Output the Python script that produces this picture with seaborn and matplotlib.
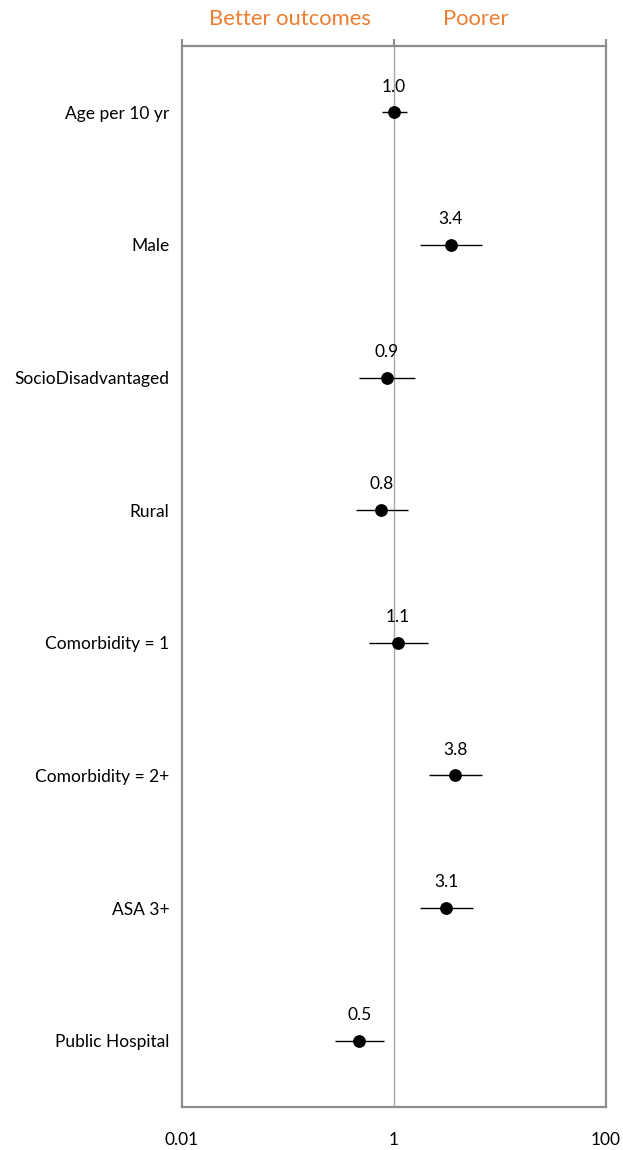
import numpy as np
import pandas as pd
import matplotlib
matplotlib.use("Agg")
import matplotlib.pyplot as plt
import matplotlib.ticker as mticker
import seaborn as sns

# odds ratios and 95% CI
factors = ["Age per 10 yr", "Male", "SocioDisadvantaged", "Rural",
           "Comorbidity = 1", "Comorbidity = 2+", "ASA 3+", "Public Hospital"]
odds_ratio = [1.0, 3.42, 0.86, 0.76, 1.09, 3.77, 3.1, 0.47]
ci_low = [0.77, 1.76, 0.47, 0.44, 0.58, 2.14, 1.76, 0.28]
ci_high = [1.33, 6.76, 1.58, 1.36, 2.09, 6.76, 5.56, 0.80]
x_ticks = [0.01, 1, 100]
x_tick_labels = ["0.01", "1", "100"]

GRAY = "#8c8c8c"
ORANGE = "#ed7d31"

sns.set_style("white")
plt.rcParams["font.family"] = ["Lato", "DejaVu Sans"]
plt.rcParams["text.color"] = "black"
plt.rcParams["xtick.color"] = "black"
plt.rcParams["ytick.color"] = "black"

df = pd.DataFrame({"factor": factors, "or": odds_ratio, "lo": ci_low, "hi": ci_high})

fig = plt.figure(figsize=(6.23, 11.5), dpi=100)
ax = fig.add_axes([182 / 623, 43 / 1150, 424 / 623, 1061 / 1150])

ax.set_xscale("log")
ax.axvline(1, color="#a6a6a6", lw=1, zorder=1)

# confidence intervals
ax.hlines(np.arange(len(df)), df["lo"], df["hi"], color="black", lw=1, zorder=2)
sns.scatterplot(data=df, x="or", y="factor", color="black", s=85,
                edgecolor="black", linewidth=0, zorder=3, ax=ax, legend=False)

for i, row in df.iterrows():
    ax.annotate(f"{row['or']:.1f}", (row["or"], i), xytext=(0, 18.5),
                textcoords="offset points", ha="center", va="center", fontsize=12.5)

ax.set_xlim(0.01, 100)
ax.set_ylim(len(df) - 0.5, -0.5)
ax.xaxis.set_major_locator(mticker.FixedLocator(x_ticks))
ax.xaxis.set_major_formatter(mticker.FixedFormatter(x_tick_labels))
ax.xaxis.set_minor_locator(mticker.NullLocator())
ax.tick_params(axis="x", top=True, bottom=False, labeltop=False, labelbottom=True,
               direction="out", length=5, width=1.5, color=GRAY, pad=13,
               labelsize=12.5, labelcolor="black")
ax.tick_params(axis="y", length=0, pad=9, labelsize=12.5, labelcolor="black")
ax.set_xlabel("")
ax.set_ylabel("")

for sp in ax.spines.values():
    sp.set_color(GRAY)
    sp.set_linewidth(1.6)

fig.text(290 / 623, 1 - 19 / 1150, "Better outcomes", color=ORANGE, fontsize=15.8,
         ha="center", va="center")
fig.text(476 / 623, 1 - 19 / 1150, "Poorer", color=ORANGE, fontsize=15.8,
         ha="center", va="center")

fig.savefig("out.png", dpi=100)
